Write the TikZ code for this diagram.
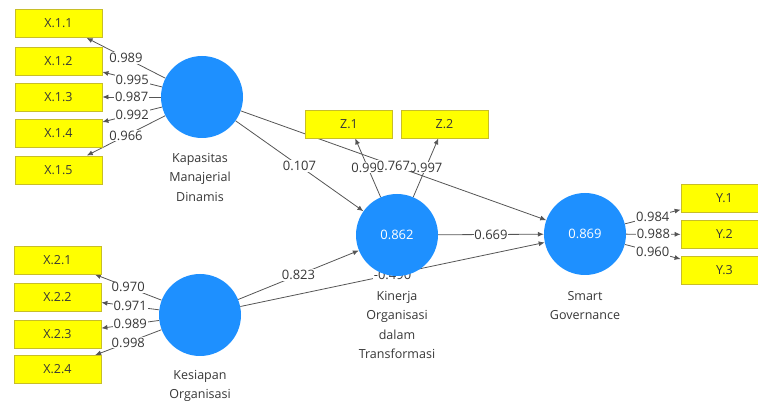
\documentclass[tikz,border=0pt]{standalone}
\usepackage{fontspec}
\setmainfont{Open Sans}
\usetikzlibrary{arrows.meta,backgrounds}
\definecolor{lvblue}{RGB}{30,144,255}
\definecolor{boxyel}{RGB}{255,255,0}
\definecolor{boxbrd}{RGB}{200,190,40}
\definecolor{edgegray}{RGB}{85,85,85}
\definecolor{txtgray}{RGB}{55,55,55}
\tikzset{
  ind/.style={draw=boxbrd, fill=boxyel, line width=0.8pt, minimum width=87pt, minimum height=28pt, inner sep=0pt, font=\fontsize{12.5}{15}\selectfont, text=txtgray},
  lv/.style={circle, fill=lvblue, minimum size=82pt, inner sep=0pt, text=white, font=\fontsize{13}{16}\selectfont},
  lvname/.style={align=center, font=\fontsize{12.5}{19.5}\selectfont, text=txtgray, inner sep=0pt},
  edge/.style={draw=edgegray, line width=0.8pt, -{Latex[length=6pt,width=5pt]}},
  lbl/.style={midway, fill=white, inner sep=0.8pt, text=txtgray, font=\fontsize{13}{15}\selectfont}
}
\begin{document}
\begin{tikzpicture}[x=1pt,y=-1pt]
\useasboundingbox (0,0) rectangle (758,403);
% indicators
\node[ind] (x11) at (58.5,23.5) {X.1.1};
\node[ind] (x12) at (58.5,61) {X.1.2};
\node[ind] (x13) at (58.5,97) {X.1.3};
\node[ind] (x14) at (58.5,133) {X.1.4};
\node[ind] (x15) at (58.5,170) {X.1.5};
\node[ind] (x21) at (57.5,260) {X.2.1};
\node[ind] (x22) at (57.5,297) {X.2.2};
\node[ind] (x23) at (57.5,334) {X.2.3};
\node[ind] (x24) at (57.5,369.5) {X.2.4};
\node[ind] (z1) at (349,124) {Z.1};
\node[ind] (z2) at (444.5,124) {Z.2};
\node[ind] (y1) at (724.5,198.5) {Y.1};
\node[ind] (y2) at (724.5,234.5) {Y.2};
\node[ind] (y3) at (724.5,270.5) {Y.3};
% latent variables
\node[lv] (kap) at (202,97) {};
\node[lv] (kes) at (200,315) {};
\node[lv] (kin) at (397,235) {0.862};
\node[lv] (sg) at (585,234) {0.869};
\node[lvname] (kapn) at (200,177) {Kapasitas\\Manajerial\\Dinamis};
\node[lvname] (kesn) at (200,386) {Kesiapan\\Organisasi};
\node[lvname] (kinn) at (397,325) {Kinerja\\Organisasi\\dalam\\Transformasi};
\node[lvname] (sgn) at (585,305.5) {Smart\\Governance};
\begin{pgfonlayer}{background}
\draw[edge] (kap) -- node[lbl]{0.989} (x11);
\draw[edge] (kap) -- node[lbl]{0.995} (x12);
\draw[edge] (kap) -- node[lbl]{0.987} (x13);
\draw[edge] (kap) -- node[lbl]{0.992} (x14);
\draw[edge] (kap) -- node[lbl]{0.966} (x15);
\draw[edge] (kes) -- node[lbl]{0.970} (x21);
\draw[edge] (kes) -- node[lbl]{0.971} (x22);
\draw[edge] (kes) -- node[lbl]{0.989} (x23);
\draw[edge] (kes) -- node[lbl]{0.998} (x24);
\draw[edge] (kin) -- node[lbl]{0.993} (z1);
\draw[edge] (kin) -- node[lbl]{0.997} (z2);
\draw[edge] (sg) -- node[lbl]{0.984} (y1);
\draw[edge] (sg) -- node[lbl]{0.988} (y2);
\draw[edge] (sg) -- node[lbl]{0.960} (y3);
\draw[edge] (kap) -- node[lbl]{0.107} (kin);
\draw[edge] (kes) -- node[lbl]{0.823} (kin);
\draw[edge] (kin) -- node[lbl]{0.669} (sg);
\draw[edge] (kes) -- node[lbl]{-0.490} (sg);
\draw[edge] (kap) -- node[lbl]{0.767} (sg);
\end{pgfonlayer}
\end{tikzpicture}
\end{document}
